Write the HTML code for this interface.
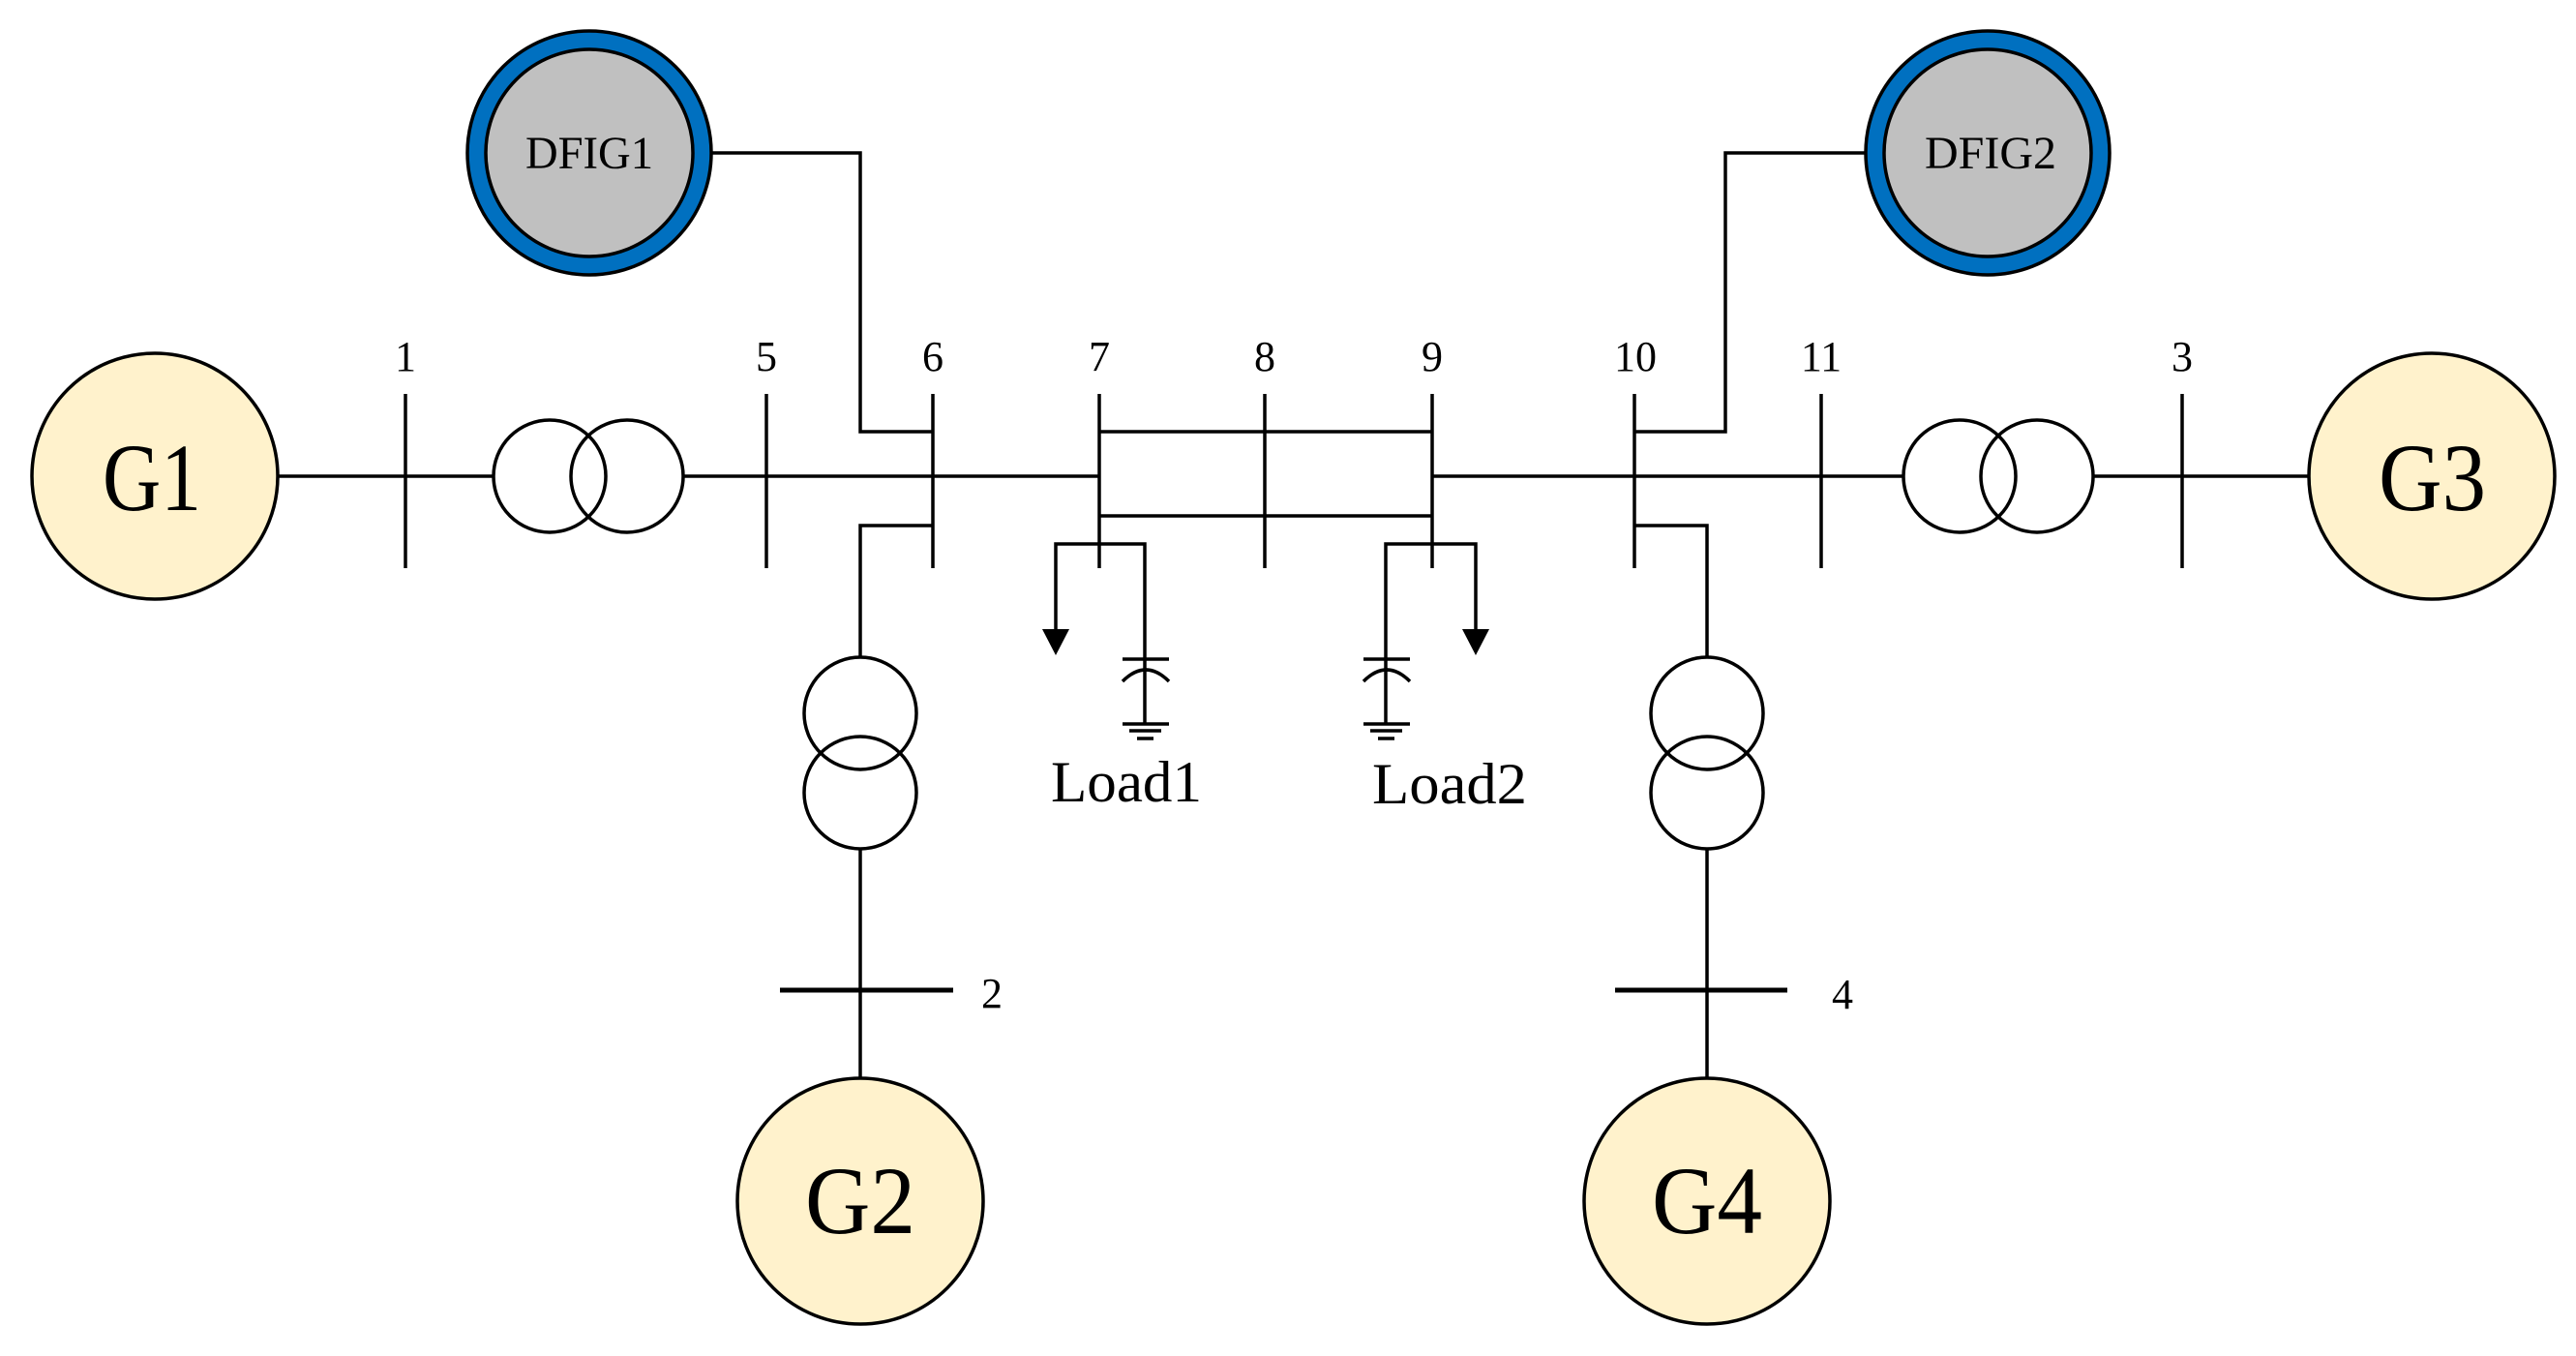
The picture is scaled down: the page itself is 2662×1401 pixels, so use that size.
<!DOCTYPE html>
<html><head><meta charset="utf-8"><style>html,body{margin:0;padding:0;background:#fff}svg{display:block}</style></head>
<body>
<svg width="2662" height="1401" viewBox="0 0 2662 1401" xmlns="http://www.w3.org/2000/svg">
<g stroke="#000" stroke-width="3.5" fill="none">
<!-- main line -->
<line x1="287" y1="492" x2="510" y2="492"/>
<line x1="706" y1="492" x2="1136" y2="492"/>
<line x1="1480" y1="492" x2="1967" y2="492"/>
<line x1="2163" y1="492" x2="2388" y2="492"/>
<!-- buses -->
<line x1="419" y1="407" x2="419" y2="587"/>
<line x1="792" y1="407" x2="792" y2="587"/>
<line x1="964" y1="407" x2="964" y2="587"/>
<line x1="1136" y1="407" x2="1136" y2="587"/>
<line x1="1307" y1="407" x2="1307" y2="587"/>
<line x1="1480" y1="407" x2="1480" y2="587"/>
<line x1="1689" y1="407" x2="1689" y2="587"/>
<line x1="1882" y1="407" x2="1882" y2="587"/>
<line x1="2255" y1="407" x2="2255" y2="587"/>
<!-- double lines 7-9 -->
<line x1="1136" y1="446" x2="1480" y2="446"/>
<line x1="1136" y1="533" x2="1480" y2="533"/>
<!-- DFIG connections -->
<polyline points="735,158 889,158 889,446 964,446"/>
<polyline points="1927,158 1783,158 1783,446 1689,446"/>
<!-- G2/G4 stubs -->
<polyline points="964,543 889,543 889,679"/>
<polyline points="1689,543 1764,543 1764,679"/>
<line x1="889" y1="877" x2="889" y2="1114"/>
<line x1="1764" y1="877" x2="1764" y2="1114"/>
<line x1="806" y1="1023" x2="985" y2="1023" stroke-width="5"/>
<line x1="1669" y1="1023" x2="1847" y2="1023" stroke-width="5"/>
<!-- transformers -->
<circle cx="568" cy="492" r="58"/><circle cx="648" cy="492" r="58"/>
<circle cx="2025" cy="492" r="58"/><circle cx="2105" cy="492" r="58"/>
<circle cx="889" cy="737" r="58"/><circle cx="889" cy="819" r="58"/>
<circle cx="1764" cy="737" r="58"/><circle cx="1764" cy="819" r="58"/>
<!-- loads -->
<polyline points="1091,654 1091,562 1183,562 1183,748"/>
<polyline points="1525,654 1525,562 1432,562 1432,748"/>
<line x1="1160" y1="681" x2="1208" y2="681"/>
<path d="M1160,704 Q1184,680 1208,704"/>
<line x1="1160" y1="748" x2="1208" y2="748"/>
<line x1="1167" y1="755" x2="1200" y2="755"/>
<line x1="1175" y1="763" x2="1192" y2="763"/>
<line x1="1409" y1="681" x2="1457" y2="681"/>
<path d="M1409,704 Q1433,680 1457,704"/>
<line x1="1409" y1="748" x2="1457" y2="748"/>
<line x1="1416" y1="755" x2="1449" y2="755"/>
<line x1="1424" y1="763" x2="1441" y2="763"/>
</g>
<polygon points="1077,650 1105,650 1091,677" fill="#000"/>
<polygon points="1511,650 1539,650 1525,677" fill="#000"/>
<!-- generators -->
<g stroke="#000" stroke-width="3.5" fill="#FFF2CC">
<circle cx="160" cy="492" r="127"/>
<circle cx="2513" cy="492" r="127"/>
<circle cx="889" cy="1241" r="127"/>
<circle cx="1764" cy="1241" r="127"/>
</g>
<g stroke="#000" stroke-width="3.5">
<circle cx="609" cy="158" r="126" fill="#0070C0"/>
<circle cx="609" cy="158" r="107" fill="#C0C0C0"/>
<circle cx="2054" cy="158" r="126" fill="#0070C0"/>
<circle cx="2054" cy="158" r="107" fill="#C0C0C0"/>
</g>
<g font-family="'Liberation Serif', serif" fill="#000">
<text x="106" y="527" font-size="100" textLength="102" lengthAdjust="spacingAndGlyphs">G1</text>
<text x="2458" y="527" font-size="100" textLength="111" lengthAdjust="spacingAndGlyphs">G3</text>
<text x="832" y="1274" font-size="100" textLength="114" lengthAdjust="spacingAndGlyphs">G2</text>
<text x="1707" y="1274" font-size="100" textLength="114" lengthAdjust="spacingAndGlyphs">G4</text>
<text x="543" y="174" font-size="48" textLength="132" lengthAdjust="spacingAndGlyphs">DFIG1</text>
<text x="1989" y="174" font-size="48" textLength="136" lengthAdjust="spacingAndGlyphs">DFIG2</text>
<text x="1086" y="828" font-size="60" textLength="156" lengthAdjust="spacingAndGlyphs">Load1</text>
<text x="1418" y="830" font-size="60" textLength="160" lengthAdjust="spacingAndGlyphs">Load2</text>
<g font-size="44" text-anchor="middle">
<text x="419" y="383">1</text>
<text x="792" y="383">5</text>
<text x="964" y="383">6</text>
<text x="1136" y="383">7</text>
<text x="1307" y="383">8</text>
<text x="1480" y="383">9</text>
<text x="1690" y="383">10</text>
<text x="1882" y="383">11</text>
<text x="2255" y="383">3</text>
<text x="1025" y="1041">2</text>
<text x="1904" y="1042">4</text>
</g>
</g>
</svg>
</body></html>
